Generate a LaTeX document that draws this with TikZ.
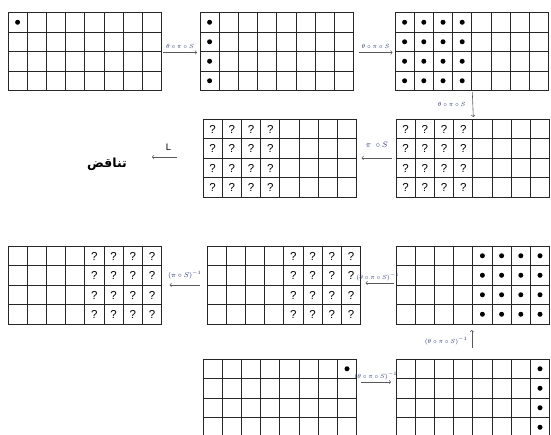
\documentclass[tikz,border=0pt]{standalone}
\usepackage{fontspec}
\newfontfamily\arabicfont[Script=Arabic]{DejaVu Sans}
\newfontfamily\qfont{Liberation Sans}
\TeXXeTstate=1
\usetikzlibrary{calc}
\definecolor{labelblue}{RGB}{30,45,110}
\newcommand\cw{19.2}
\newcommand\ch{19.5}
\tikzset{
  gridbox/.style={draw=black!85, line width=0.8pt, minimum width=153.6pt, minimum height=78pt, inner sep=0pt, outer sep=0pt, anchor=north west},
  gridline/.style={line width=0.8pt, draw=black!85},
  dotmark/.style={circle, fill=black, inner sep=0pt, minimum size=5pt},
  qmark/.style={font=\qfont\fontsize{11.5}{12}\selectfont, inner sep=0pt},
  flow/.style={->, line width=0.6pt, draw=black!65},
  lbl/.style={font=\fontsize{6.5}{7}\selectfont, text=labelblue, inner sep=1pt},
}
\newcommand\mkgrid[3]{%
  \node[gridbox] (#1) at (#2,#3) {};
  \begin{scope}[shift={(#2,#3)}]
    \foreach \i in {1,...,7} \draw[gridline] (\i*\cw,0) -- (\i*\cw,4*\ch);
    \foreach \j in {1,2,3} \draw[gridline] (0,\j*\ch) -- (8*\cw,\j*\ch);
  \end{scope}}
\newcommand\dotcells[4]{%
  \begin{scope}[shift={(#1,#2)}]
    \foreach \c in {#3} \foreach \r in {#4} \node[dotmark] at ({(\c-0.5)*\cw},{(\r-0.5)*\ch}) {};
  \end{scope}}
\newcommand\qcells[4]{%
  \begin{scope}[shift={(#1,#2)}]
    \foreach \c in {#3} \foreach \r in {#4} \node[qmark] at ({(\c-0.5)*\cw},{(\r-0.5)*\ch+0.5}) {?};
  \end{scope}}
\begin{document}
\begin{tikzpicture}[x=1pt,y=-1pt]
\useasboundingbox (0,0) rectangle (551,434);
% row 1
\mkgrid{g1}{8}{12.5}
\mkgrid{g2}{200}{12.5}
\mkgrid{g3}{395}{12.5}
\dotcells{8}{12.5}{1}{1}
\dotcells{200}{12.5}{1}{1,2,3,4}
\dotcells{395}{12.5}{1,2,3,4}{1,2,3,4}
% row 2
\mkgrid{g4}{396}{119}
\mkgrid{g5}{203}{119}
\qcells{396}{119}{1,2,3,4}{1,2,3,4}
\qcells{203}{119}{1,2,3,4}{1,2,3,4}
\node[font=\arabicfont\bfseries\fontsize{12.5}{14}\selectfont, inner sep=1pt] (contra) at (107,164) {\beginR تناقض\endR};
% row 3
\mkgrid{g6}{8}{246}
\mkgrid{g7}{207}{246}
\mkgrid{g8}{396}{246}
\qcells{8}{246}{5,6,7,8}{1,2,3,4}
\qcells{207}{246}{5,6,7,8}{1,2,3,4}
\dotcells{396}{246}{5,6,7,8}{1,2,3,4}
% row 4
\mkgrid{g9}{203}{359}
\mkgrid{g10}{396}{359}
\dotcells{203}{359}{8}{1}
\dotcells{396}{359}{8}{1,2,3,4}
% arrows
\draw[flow] ([xshift=1.5pt,yshift=-1pt]g1.east) -- node[lbl, above=3pt] {$\theta\circ\pi\circ S$} ([xshift=-3pt,yshift=-1pt]g2.west);
\draw[flow] ([xshift=5pt,yshift=-1pt]g2.east) -- node[lbl, above=3pt] {$\theta\circ\pi\circ S$} ([xshift=-2.5pt,yshift=-1pt]g3.west);
\draw[flow] ([xshift=0.5pt,yshift=-1.5pt]g3.south) -- node[lbl, left=6pt] {$\theta\circ\pi\circ S$} ([xshift=0.5pt,yshift=2pt]g4.north);
\draw[flow] ([xshift=-4pt]g4.west) -- node[lbl, above=9pt, font=\fontsize{8}{9}\selectfont] {$\pi\ \circ S$} ([xshift=5pt]g5.east);
\coordinate (lstart) at ([xshift=-26pt,yshift=1pt]g5.west);
\draw[flow] (lstart) -- node[font=\qfont\fontsize{9.5}{10}\selectfont, above=3pt, xshift=4pt] {L} ([xshift=24pt]contra.east |- lstart);
\draw[flow] ([xshift=-2pt,yshift=2pt]g8.west) -- node[lbl, above=1pt, xshift=-2pt] {$(\theta\circ\pi\circ S)^{-1}$} ([xshift=5pt,yshift=2pt]g7.east);
\draw[flow] ([xshift=-7pt]g7.west) -- node[lbl, above=4pt, font=\fontsize{7.5}{8}\selectfont] {$(\pi\circ S)^{-1}$} ([xshift=8pt]g6.east);
\draw[flow] ([xshift=-1pt,yshift=11pt]g10.north) -- node[lbl, left=3pt, yshift=-2pt] {$(\theta\circ\pi\circ S)^{-1}$} ([xshift=-1pt,yshift=-6pt]g8.south);
\draw[flow] ([xshift=4pt,yshift=16pt]g9.east) -- node[lbl, above=1pt] {$(\theta\circ\pi\circ S)^{-1}$} ([xshift=-5pt,yshift=16pt]g10.west);
\end{tikzpicture}
\end{document}
